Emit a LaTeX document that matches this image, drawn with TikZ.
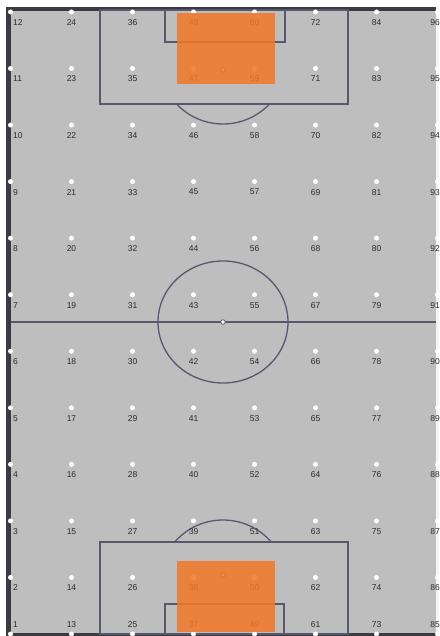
\documentclass[tikz,border=0pt]{standalone}
\usepackage{fontspec}
\setmainfont{Liberation Sans}
\definecolor{fieldgray}{RGB}{190,190,190}
\definecolor{linecol}{RGB}{88,88,108}
\definecolor{borderdark}{RGB}{58,58,64}
\definecolor{labcol}{RGB}{45,45,45}
\definecolor{boxorange}{RGB}{242,120,40}
\tikzset{
  dot/.style={circle,fill=white,draw=none,minimum size=5pt,inner sep=0pt},
  lab/.style={inner sep=0pt,text=labcol,font=\fontsize{8.5}{10}\selectfont},
  fieldline/.style={draw=linecol,line width=1.3pt},
  spot/.style={circle,fill=white,draw=linecol,line width=0.8pt,minimum size=4.5pt,inner sep=0pt},
  zone/.style={fill=boxorange,fill opacity=0.86,draw=none}
}
\begin{document}
\begin{tikzpicture}[x=1pt,y=-1pt]
\useasboundingbox (0,0) rectangle (439,636);
\fill[white] (0,0) rectangle (439,636);
% field
\fill[fieldgray] (6,7) rectangle (439,636);
% borders
\fill[borderdark] (6,7) rectangle (436,11);
\fill[borderdark] (6,7) rectangle (11,636);
\fill[borderdark] (6,632.5) rectangle (439,636);
\fill[white!85!fieldgray] (436,7) rectangle (439,632.5);
% field lines
\draw[fieldline] (100,10) rectangle (348,104);
\draw[fieldline] (165,10) rectangle (285,42);
\draw[fieldline] (100,634) rectangle (348,542);
\draw[fieldline] (165,634) rectangle (284,604);
\begin{scope}
  \clip (100,104) rectangle (348,200);
  \draw[fieldline] (223,60) circle[radius=64];
\end{scope}
\begin{scope}
  \clip (100,440) rectangle (348,542);
  \draw[fieldline] (223,584) circle[radius=64];
\end{scope}
\draw[fieldline] (11,322) -- (436,322);
\draw[fieldline] (223,322) ellipse[x radius=65,y radius=61];
\node[spot] (cspot) at (223,322) {};
\node[spot] (tspot) at (223,70) {};
\node[spot] (bspot) at (223,575) {};
% dots and labels
\foreach \c in {0,...,7}{
  \foreach \r in {0,...,11}{
    \pgfmathtruncatemacro\n{\c*12+\r+1}
    \pgfmathsetmacro\xx{10.5+61*\c}
    \pgfmathsetmacro\yy{634-56.55*\r}
    \ifnum\r=0
      \pgfmathsetmacro\ly{625}
    \else
      \pgfmathsetmacro\ly{\yy+10.5}
    \fi
    \node[dot] (d\n) at (\xx,\yy) {};
    \ifnum\c=0
      \node[lab,anchor=west] (l\n) at (13,\ly) {\n};
    \else
      \ifnum\c=7
        \node[lab,anchor=east] (l\n) at (440,\ly) {\n};
      \else
        \node[lab] (l\n) at (\xx,\ly) {\n};
      \fi
    \fi
  }
}
% orange zones
\fill[zone] (177,13) rectangle (275,84);
\fill[zone] (177,561) rectangle (275,632);
\end{tikzpicture}
\end{document}
